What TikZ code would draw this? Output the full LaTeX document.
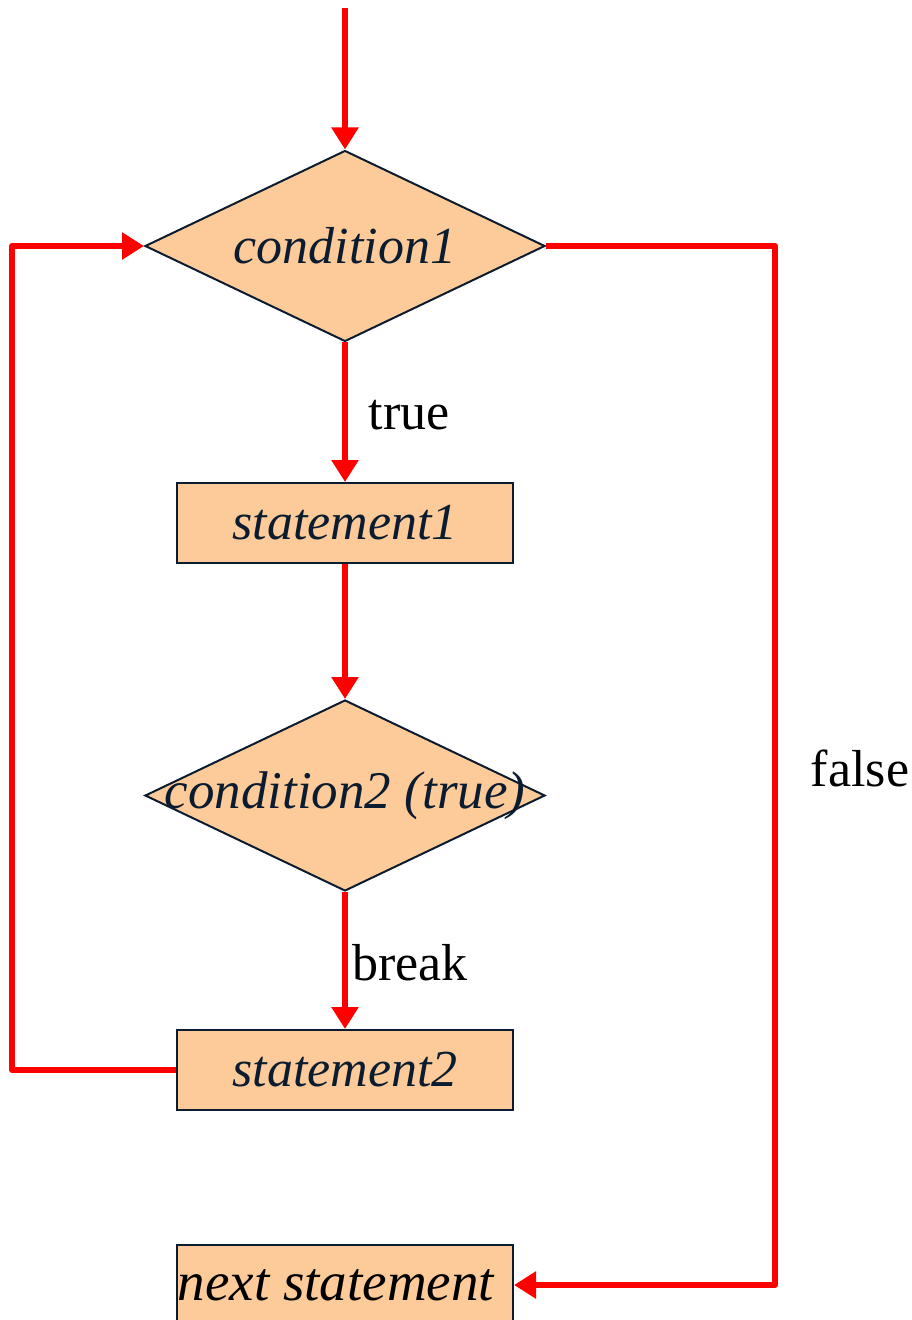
\documentclass[tikz,border=0pt]{standalone}
\usepackage{fontspec}
\setmainfont{Liberation Serif}
\usetikzlibrary{shapes.geometric,arrows.meta}
\definecolor{boxfill}{RGB}{253,203,153}
\definecolor{navy}{RGB}{12,28,48}
\definecolor{flowred}{RGB}{255,0,0}
\begin{document}
\begin{tikzpicture}[x=0.5pt,y=-0.5pt,
  flow/.style={draw=flowred,line width=3pt,line join=round,-{Triangle[length=11pt,width=13pt]}},
  decision/.style={diamond,draw=navy,fill=boxfill,line width=1pt,minimum width=200pt,minimum height=95.5pt,inner sep=0pt,text=navy,font=\fontsize{26}{30}\selectfont\itshape},
  stepbox/.style={rectangle,draw=navy,fill=boxfill,line width=1pt,minimum width=168pt,minimum height=40pt,inner sep=0pt,text=navy,font=\fontsize{26}{30}\selectfont\itshape},
  lbl/.style={font=\fontsize{26}{30}\selectfont,inner sep=0pt}]
\useasboundingbox (0,0) rectangle (911,1320);
\coordinate (start) at (345,8);
\node[decision] (d1) at (345,246) {\makebox[0pt]{condition1}};
\node[stepbox] (s1) at (345,523) {statement1};
\node[decision] (d2) at (345,795.5) {\makebox[0pt]{\fontsize{26.5}{30}\selectfont condition2 (true)}};
\node[stepbox] (s2) at (345,1070) {statement2};
\node[stepbox,text=black,font=\fontsize{27.5}{30}\selectfont\itshape] (n) at (345,1285) {\hspace*{-9pt}next statement};
\coordinate (L) at (12,600);
\coordinate (R) at (775,600);
\node[lbl] (ltrue) at (409,415) {true};
\node[lbl] (lbreak) at (410,963) {break};
\node[lbl] (lfalse) at (860,768) {false};
\draw[flow] (start) -- (d1.north);
\draw[flow] (d1.south) -- (s1.north);
\draw[flow] (s1.south) -- (d2.north);
\draw[flow] (d2.south) -- (s2.north);
\draw[flow] (s2.west) -- (s2.west -| L) -- (d1.west -| L) -- (d1.west);
\draw[flow] (d1.east) -- (d1.east -| R) -- (n.east -| R) -- (n.east);
\end{tikzpicture}
\end{document}
